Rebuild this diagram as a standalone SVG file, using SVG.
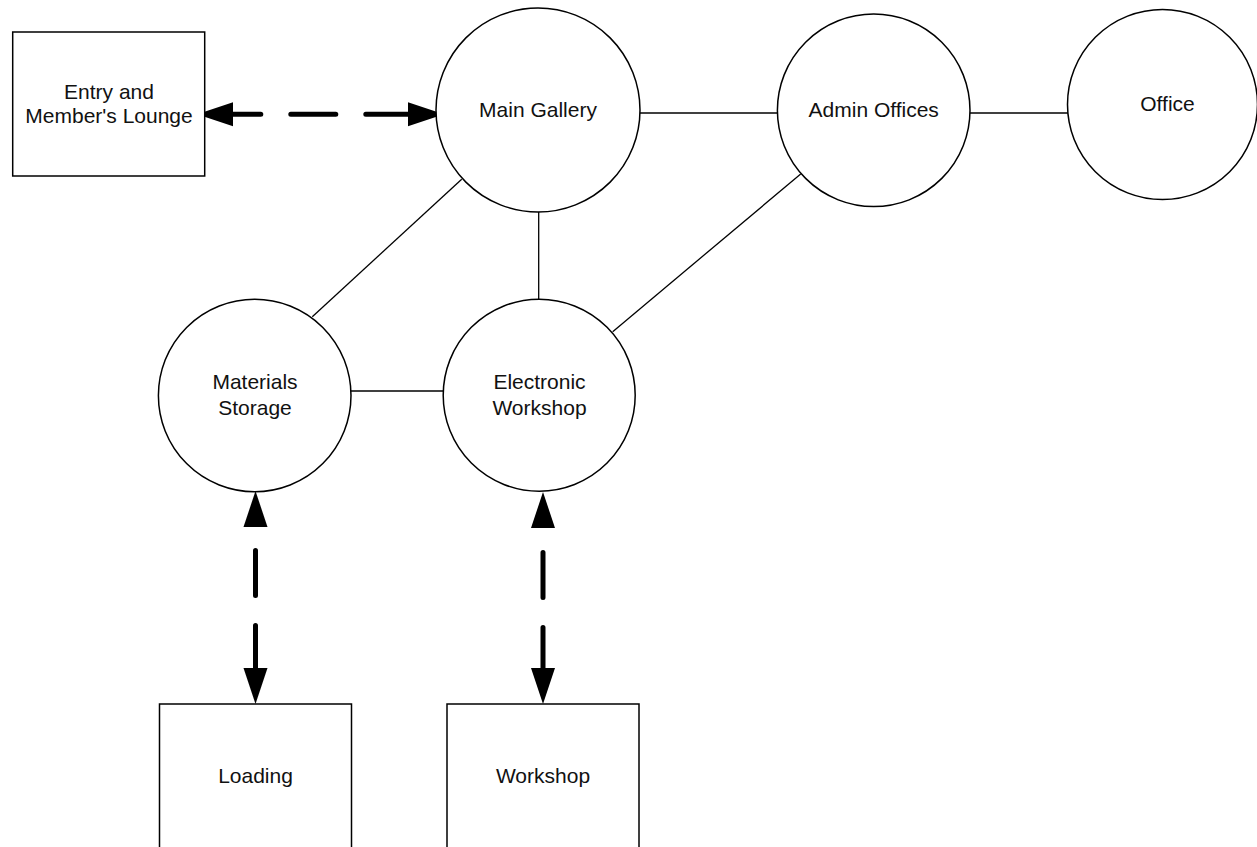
<svg xmlns="http://www.w3.org/2000/svg" width="1257" height="847" viewBox="0 0 1257 847">
  <style>
    .shape { fill: #ffffff; stroke: #000000; stroke-width: 1.5; }
    .label { font-family: "Liberation Sans", Arial, Helvetica, sans-serif; font-size: 21px; fill: #111111; text-anchor: middle; }
    .link { stroke: #000000; stroke-width: 1.3; fill: none; }
    .flow { stroke: #000000; stroke-width: 5; fill: none; stroke-linecap: round; stroke-dasharray: 45 30; marker-start: url(#arrow); marker-end: url(#arrow); }
  </style>
  <defs>
    <marker id="arrow" markerUnits="userSpaceOnUse" markerWidth="36" markerHeight="24" viewBox="0 0 36 24" refX="0" refY="12" orient="auto-start-reverse" overflow="visible">
      <path d="M0,0 L36,12 L0,24 Z" fill="#000000"/>
    </marker>
  </defs>
  <rect width="1257" height="847" fill="#ffffff"/>

  <g id="connectors">
    <line class="link" x1="640" y1="113" x2="780" y2="113"/>
    <line class="link" x1="970" y1="113" x2="1068" y2="113"/>
    <line class="link" x1="461.7" y1="179.3" x2="312.3" y2="316.7"/>
    <line class="link" x1="538.7" y1="212" x2="538.7" y2="299.3"/>
    <line class="link" x1="346" y1="391" x2="443.3" y2="391"/>
    <line class="link" x1="800.7" y1="174" x2="612.7" y2="331.7"/>
    <path class="flow" d="M233,114.3 L408,114.3" stroke-dashoffset="17.2"/>
    <path class="flow" d="M255.5,668 L255.5,527" stroke-dashoffset="2.5"/>
    <path class="flow" d="M543,668 L543,528" stroke-dashoffset="4.5"/>
  </g>

  <g id="entry">
    <rect class="shape" x="12.7" y="32" width="192" height="144"/>
    <text class="label" x="109" y="98.5">Entry and</text>
    <text class="label" x="109" y="122.5">Member's Lounge</text>
  </g>

  <g id="main-gallery">
    <circle class="shape" cx="538" cy="110" r="102"/>
    <text class="label" x="538" y="117.3">Main Gallery</text>
  </g>

  <g id="admin-offices">
    <circle class="shape" cx="873.7" cy="110.3" r="96.3"/>
    <text class="label" x="873.7" y="116.7">Admin Offices</text>
  </g>

  <g id="office">
    <circle class="shape" cx="1162.5" cy="104.5" r="95"/>
    <text class="label" x="1167.5" y="111">Office</text>
  </g>

  <g id="materials-storage">
    <circle class="shape" cx="254.7" cy="395.5" r="96.3"/>
    <text class="label" x="255" y="389.3">Materials</text>
    <text class="label" x="255" y="415">Storage</text>
  </g>

  <g id="electronic-workshop">
    <circle class="shape" cx="539.2" cy="395.2" r="96"/>
    <text class="label" x="539.5" y="389">Electronic</text>
    <text class="label" x="539.5" y="415">Workshop</text>
  </g>

  <g id="loading">
    <rect class="shape" x="159.5" y="704" width="192" height="144"/>
    <text class="label" x="255.5" y="783">Loading</text>
  </g>

  <g id="workshop">
    <rect class="shape" x="447" y="704" width="192" height="144"/>
    <text class="label" x="543" y="783">Workshop</text>
  </g>
</svg>
